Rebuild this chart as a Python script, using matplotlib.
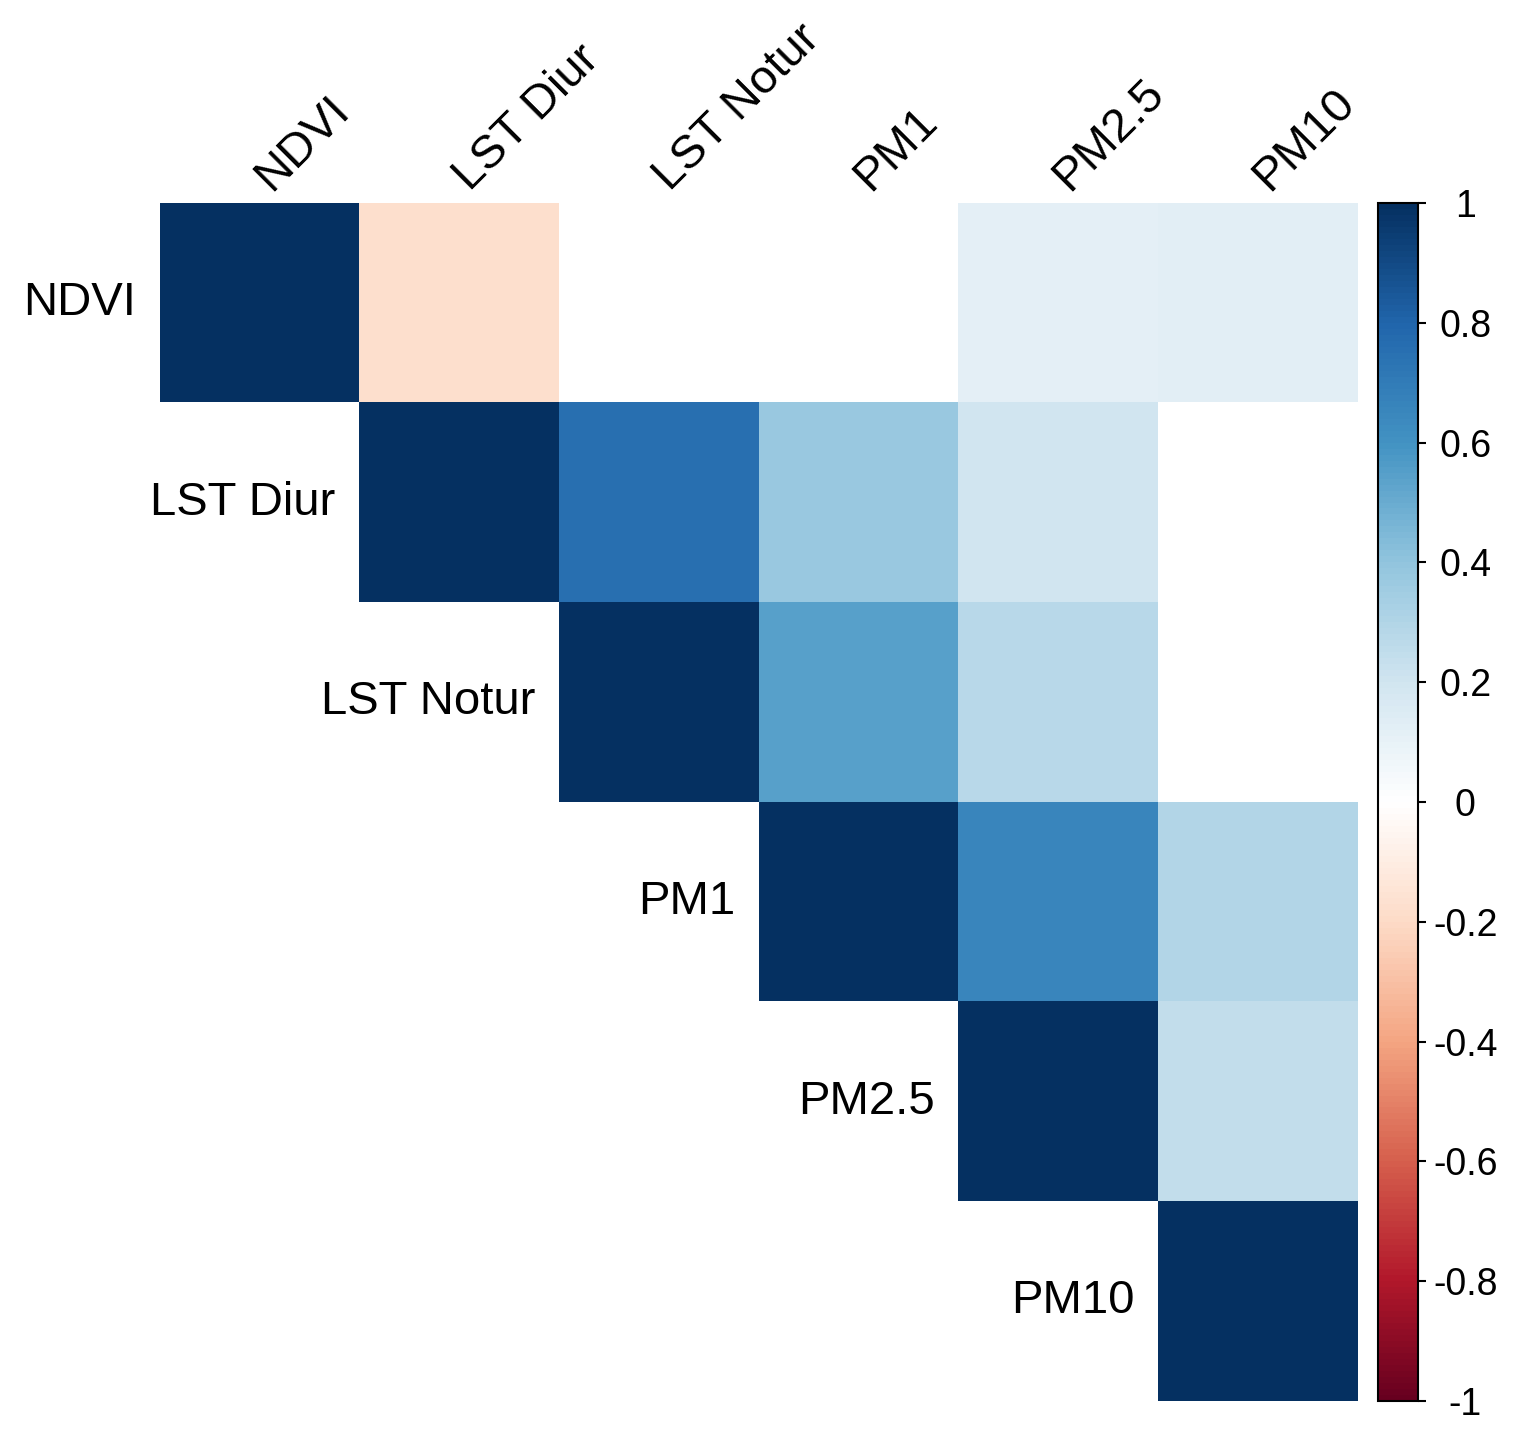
import numpy as np
import matplotlib.pyplot as plt
from matplotlib.colors import LinearSegmentedColormap

plt.rcParams['font.family'] = ['Liberation Sans', 'DejaVu Sans']

# variable names
labels = ['NDVI', 'LST Diur', 'LST Notur', 'PM1', 'PM2.5', 'PM10']

# upper triangle of the correlation matrix, row by row (nan = blank / not significant)
row_ndvi = [1.00, -0.18, np.nan, np.nan, 0.11, 0.13]
row_lstd = [1.00, 0.75, 0.37, 0.19, np.nan]
row_lstn = [1.00, 0.54, 0.27, np.nan]
row_pm1 = [1.00, 0.65, 0.29]
row_pm25 = [1.00, 0.24]
row_pm10 = [1.00]

cbar_ticks = [-1, -0.8, -0.6, -0.4, -0.2, 0, 0.2, 0.4, 0.6, 0.8, 1]
cbar_labels = ['-1', '-0.8', '-0.6', '-0.4', '-0.2', '0', '0.2', '0.4', '0.6', '0.8', '1']

n = len(labels)
rows = [row_ndvi, row_lstd, row_lstn, row_pm1, row_pm25, row_pm10]
M = np.full((n, n), np.nan)
for i, r in enumerate(rows):
    M[i, i:] = r

# corrplot-like RdBu palette (white centre)
cols = ["#67001F", "#B2182B", "#D6604D", "#F4A582", "#FDDBC7", "#FFFFFF",
        "#D1E5F0", "#92C5DE", "#4393C3", "#2166AC", "#053061"]
cmap = LinearSegmentedColormap.from_list('corr', cols, N=200)

fig = plt.figure(figsize=(15.17, 14.41), dpi=100)
W, H = 1517, 1441
ax = fig.add_axes([160/W, 1-1401/H, 1198/W, 1198/H])
im = ax.imshow(M, cmap=cmap, vmin=-1, vmax=1, extent=(-0.5, n-0.5, n-0.5, -0.5),
               interpolation='nearest', aspect='auto')
ax.set_xlim(-0.5, n-0.5)
ax.set_ylim(n-0.5, -0.5)
ax.axis('off')

fs = 34
for i, lab in enumerate(labels):
    # row labels next to the diagonal
    ax.text(i - 0.5 - 0.12, i, lab, ha='right', va='center', fontsize=fs)
    # column labels on top, rotated
    ax.text(i + 0.09, -0.5 - 0.02, lab, ha='left', va='bottom', rotation=45,
            rotation_mode='anchor', fontsize=fs)

cax = fig.add_axes([1378/W, 1-1401/H, 40/W, 1198/H])
cb = fig.colorbar(im, cax=cax, ticks=cbar_ticks)
cb.ax.set_yticklabels(cbar_labels)
cb.outline.set_linewidth(1.5)
cb.ax.tick_params(length=6, width=1.5, labelsize=27, pad=28)
for t in cb.ax.get_yticklabels():
    t.set_horizontalalignment('center')

fig.savefig('out.png', dpi=100)
